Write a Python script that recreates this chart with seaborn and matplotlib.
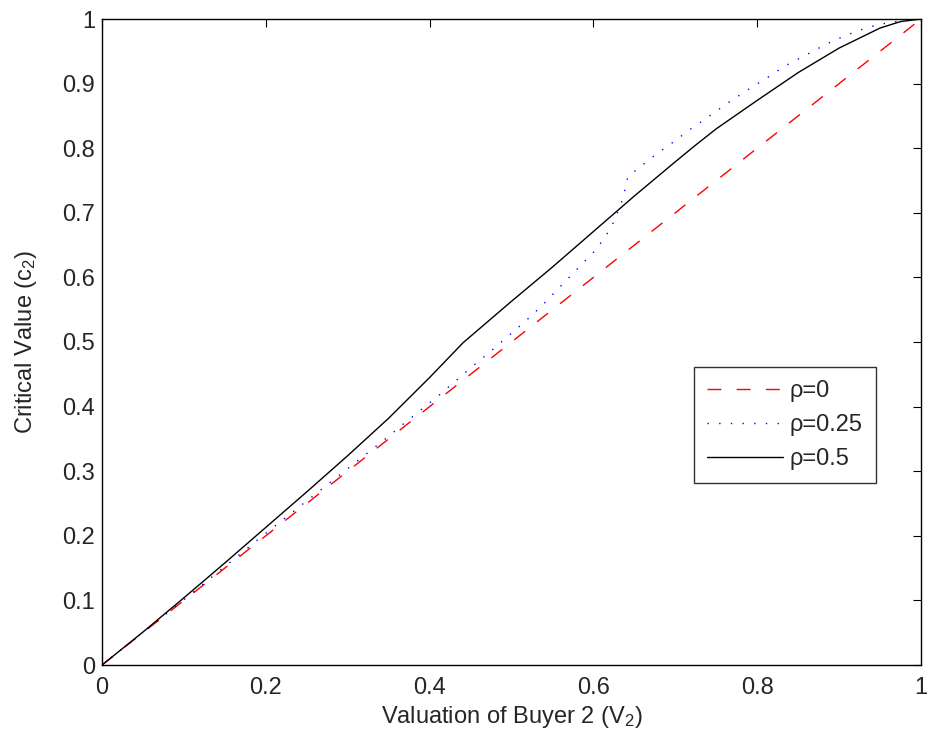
import pandas as pd
import matplotlib.pyplot as plt
import seaborn as sns

# Values
v_rho0 = [0.0, 0.2, 0.4, 0.6, 0.8, 1.0]
c_rho0 = [0.0, 0.2, 0.4, 0.6, 0.8, 1.0]

v_rho25 = [0.0, 0.1, 0.2, 0.3, 0.347, 0.368, 0.411, 0.432, 0.453, 0.474, 0.516, 0.537,
           0.584, 0.604, 0.620, 0.626, 0.636, 0.639, 0.642, 0.653, 0.675, 0.697, 0.719,
           0.742, 0.764, 0.788, 0.812, 0.835, 0.859, 0.884, 0.909, 0.935, 0.962, 1.0]
c_rho25 = [0.0, 0.101, 0.204, 0.304, 0.351, 0.373, 0.417, 0.440, 0.463, 0.485, 0.531, 0.556,
           0.618, 0.644, 0.674, 0.689, 0.722, 0.739, 0.756, 0.767, 0.789, 0.809, 0.830,
           0.850, 0.870, 0.890, 0.909, 0.928, 0.944, 0.961, 0.975, 0.987, 0.995, 1.0]

v_rho5 = [0.0, 0.05, 0.1, 0.15, 0.2, 0.25, 0.3, 0.35, 0.4, 0.441, 0.5, 0.55, 0.6,
          0.65, 0.7, 0.725, 0.75, 0.8, 0.85, 0.9, 0.95, 0.975, 1.0]
c_rho5 = [0.0, 0.051, 0.104, 0.158, 0.213, 0.268, 0.324, 0.382, 0.445, 0.499, 0.563,
          0.616, 0.671, 0.726, 0.779, 0.805, 0.830, 0.874, 0.917, 0.955, 0.986, 0.996, 1.0]

labels = ['ρ=0', 'ρ=0.25', 'ρ=0.5']

sns.set_style('white')
plt.rcParams['font.family'] = ['Liberation Sans', 'DejaVu Sans']
plt.rcParams['mathtext.fontset'] = 'custom'
plt.rcParams['mathtext.rm'] = 'Liberation Sans'
plt.rcParams['mathtext.it'] = 'Liberation Sans'

fs = 17

fig = plt.figure(figsize=(9.29, 7.44), dpi=100)
ax = fig.add_axes([102 / 929, 1 - 665 / 744, 819 / 929, 646 / 744])

sns.lineplot(x=v_rho0, y=c_rho0, ax=ax, color='red', linewidth=1.0, label=labels[0])
sns.lineplot(x=v_rho25, y=c_rho25, ax=ax, color='blue', linewidth=1.0, label=labels[1])
sns.lineplot(x=v_rho5, y=c_rho5, ax=ax, color='black', linewidth=1.0, label=labels[2])

ax.lines[0].set_dashes((10, 11))
ax.lines[1].set_dashes((1, 7.4))

ax.set_xlim(0, 1)
ax.set_ylim(0, 1)
ax.set_xticks([0, 0.2, 0.4, 0.6, 0.8, 1])
ax.set_xticklabels(['0', '0.2', '0.4', '0.6', '0.8', '1'])
ax.set_yticks([i / 10 for i in range(11)])
ax.set_yticklabels(['0', '0.1', '0.2', '0.3', '0.4', '0.5', '0.6', '0.7', '0.8', '0.9', '1'])
ax.tick_params(direction='in', length=6, width=0.8, top=True, right=True,
               labelsize=fs, color='black')
ax.tick_params(axis='x', pad=9)
ax.tick_params(axis='y', pad=5)
for s in ax.spines.values():
    s.set_color('black')
    s.set_linewidth(1.0)

ax.set_xlabel('Valuation of Buyer 2 (V$_2$)', fontsize=fs, labelpad=3)
ax.set_ylabel('Critical Value (c$_2$)', fontsize=fs, labelpad=17)

leg = ax.legend(loc='lower left', bbox_to_anchor=(0.723, 0.2817), borderaxespad=0,
                fontsize=fs, frameon=True, fancybox=False, edgecolor='black',
                handlelength=3.2, handletextpad=0.3, labelspacing=0.5,
                borderpad=0.55)
leg.get_frame().set_linewidth(1.0)

plt.savefig('out.png', dpi=100)
